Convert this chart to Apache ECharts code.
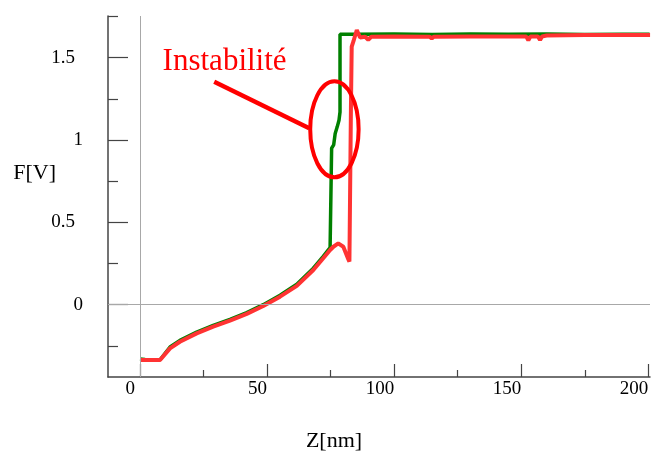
<!DOCTYPE html>
<html><head><meta charset="utf-8">
<script src="https://cdn.jsdelivr.net/npm/echarts@6/dist/echarts.min.js"></script>
<style>html,body{margin:0;padding:0;background:#fff}#c{width:654px;height:454px}</style>
</head><body><div id="c"></div>
<script>
// ---- data ----
const zGreen = [0, 2, 5, 7.9, 11.8, 15.7, 22.3, 28.8, 35.4, 42.0, 48.5, 55.1, 61.7, 68.2, 72.1, 74.8, 75.4, 75.4, 76.2, 76.8, 77.6, 78.3, 78.7, 78.7, 85, 100, 115, 130, 145, 160, 175, 190, 200.5];
const fGreen = [-0.33, -0.333, -0.334, -0.334, -0.257, -0.217, -0.166, -0.125, -0.089, -0.048, 0.0, 0.058, 0.124, 0.222, 0.294, 0.346, 0.352, 0.95, 0.97, 1.04, 1.08, 1.12, 1.17, 1.642, 1.642, 1.643, 1.641, 1.643, 1.642, 1.643, 1.641, 1.642, 1.642];
const zRed = [0, 3, 7.9, 11.8, 15.7, 22.3, 28.8, 35.4, 42.0, 48.5, 55.1, 61.7, 68.2, 72.1, 74.8, 76.1, 78.0, 80.0, 82.0, 82.4, 83.0, 83.3, 84.0, 85.3, 86.6, 88.6, 89.8, 91.0, 100, 114.0, 114.8, 115.6, 130, 140, 152.0, 152.8, 153.6, 156.6, 157.4, 158.2, 160, 175, 190, 200.7];
const fRed = [-0.336, -0.336, -0.336, -0.265, -0.225, -0.174, -0.133, -0.097, -0.056, -0.008, 0.049, 0.114, 0.211, 0.282, 0.332, 0.352, 0.372, 0.352, 0.275, 0.262, 1.2, 1.567, 1.6, 1.668, 1.622, 1.627, 1.609, 1.627, 1.628, 1.627, 1.616, 1.627, 1.629, 1.628, 1.628, 1.605, 1.628, 1.628, 1.607, 1.629, 1.635, 1.637, 1.637, 1.637];
const xMajorTicks = [0, 50, 100, 150, 200];
const xMinorTicks = [25, 75, 125, 175];
const yMajorTicks = [0, 0.5, 1, 1.5];
const yMinorTicks = [-0.25, 0.25, 0.75, 1.25, 1.75];
const xTitle = 'Z[nm]';
const yTitle = 'F[V]';
const noteText = 'Instabilité';
const notePoint = [76.5, 1.065];

const FONT = '"Liberation Serif", "Times New Roman", serif';
const xMin = -12.59, xMax = 200.67, yMin = -0.439, yMax = 1.753;
const AX = '#444';

const chart = echarts.init(document.getElementById('c'), null, {renderer: 'canvas'});

const baseX = {type: 'value', min: xMin, max: xMax, position: 'bottom', splitLine: {show: false}};
const baseY = {type: 'value', min: yMin, max: yMax, position: 'left', splitLine: {show: false}};

chart.setOption({
  animation: false,
  backgroundColor: '#fff',
  grid: {left: 108, top: 16, right: 4, bottom: 77, containLabel: false, outerBoundsMode: 'none'},
  xAxis: [
    Object.assign({}, baseX, {
      axisLine: {show: true, onZero: false, lineStyle: {color: AX, width: 1.5}},
      axisTick: {show: true, inside: true, length: 13, customValues: xMajorTicks, lineStyle: {color: AX, width: 1.2}},
      axisLabel: {show: true, customValues: xMajorTicks, align: 'right', margin: 3,
        formatter: v => v === 0 ? '{z|0}' : '{n|' + v + '}',
        rich: {
          z: {fontSize: 19, fontFamily: FONT, color: '#000', padding: [0, 5, 0, 0]},
          n: {fontSize: 19, fontFamily: FONT, color: '#000'}
        }}
    }),
    Object.assign({}, baseX, {
      axisLine: {show: false, onZero: false},
      axisTick: {show: true, inside: true, length: 7, customValues: xMinorTicks, lineStyle: {color: AX, width: 1.2}},
      axisLabel: {show: false}
    })
  ],
  yAxis: [
    Object.assign({}, baseY, {
      axisLine: {show: true, onZero: false, lineStyle: {color: AX, width: 1.5}},
      axisTick: {show: true, inside: true, length: 20, customValues: yMajorTicks, lineStyle: {color: AX, width: 1.2}},
      axisLabel: {show: true, customValues: yMajorTicks, margin: 25,
        formatter: v => Number.isInteger(v) ? '{i|' + v + '}' : '{d|' + v + '}',
        rich: {
          i: {fontSize: 19, fontFamily: FONT, color: '#000'},
          d: {fontSize: 19, fontFamily: FONT, color: '#000', padding: [0, 8, 0, 0]}
        }}
    }),
    Object.assign({}, baseY, {
      axisLine: {show: false, onZero: false},
      axisTick: {show: true, inside: true, length: 10, customValues: yMinorTicks, lineStyle: {color: AX, width: 1.2}},
      axisLabel: {show: false}
    })
  ],
  series: [
    {
      type: 'line', name: 'green', xAxisIndex: 0, yAxisIndex: 0,
      data: zGreen.map((z, i) => [z, fGreen[i]]),
      showSymbol: false, symbol: 'none',
      lineStyle: {color: '#008000', width: 3.5},
      markLine: {
        silent: true, symbol: ['none', 'none'], label: {show: false},
        lineStyle: {color: '#a8a8a8', width: 1, type: 'solid'},
        emphasis: {disabled: true},
        data: [{xAxis: 0}, {yAxis: 0}]
      }
    },
    {
      type: 'line', name: 'red', xAxisIndex: 0, yAxisIndex: 0,
      data: zRed.map((z, i) => [z, fRed[i]]),
      showSymbol: false, symbol: 'none',
      lineStyle: {color: '#ff3333', width: 4}
    }
  ]
});

const c = chart.convertToPixel({xAxisIndex: 0, yAxisIndex: 0}, notePoint);
chart.setOption({
  graphic: [
    {type: 'ellipse', shape: {cx: c[0], cy: c[1], rx: 24.2, ry: 48}, style: {fill: 'none', stroke: '#ff0000', lineWidth: 4}, z: 100},
    {type: 'line', shape: {x1: c[0] - 120.2, y1: c[1] - 47.6, x2: c[0] - 25.2, y2: c[1] - 1}, style: {stroke: '#ff0000', lineWidth: 4.5}, z: 100},
    {type: 'text', x: c[0] - 171.8, y: c[1] - 67.3, style: {text: noteText, fill: '#ff0000', font: '31px ' + FONT, verticalAlign: 'middle', align: 'left'}, z: 100},
    {type: 'text', x: 13.3, y: 173, style: {text: yTitle, fill: '#000', font: '22px ' + FONT, verticalAlign: 'middle', align: 'left'}},
    {type: 'text', x: 334, y: 441, style: {text: xTitle, fill: '#000', font: '22px ' + FONT, verticalAlign: 'middle', align: 'center'}}
  ]
});
</script>
</body></html>
